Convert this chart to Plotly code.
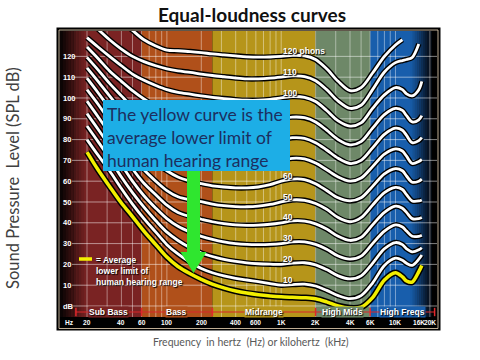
import numpy as np
import plotly.graph_objects as go

# ---------------- data ----------------
FREQ_HZ = [20, 25, 31.5, 40, 50, 63, 80, 100, 125, 160, 200, 250, 315, 400, 500, 630, 800,
           1000, 1250, 1600, 2000, 2500, 3150, 4000, 5000, 6300, 8000, 10000, 11500, 12500,
           14000, 16000, 17000]

PHON_LEVELS = [120, 110, 100, 90, 80, 70, 60, 50, 40, 30, 20, 10]

SPL_120 = [None, None, None, 137, 132.5, 128, 125, 123, 122.7, 122.3, 121.8, 121.2, 120.7, 120.2, 119.8,
           119.6, 119.7, 120, 120.5, 120.3, 118.5, 114, 108, 103.5, 105, 112, 120, 125.5, 128,
           None, None, None, None]
SPL_110 = [None, 133, 128, 123.5, 120, 117.5, 115.5, 114, 113, 112.3, 111.5, 110.8, 110.2, 109.6, 109.2,
           109.2, 109.5, 110, 110.6, 110.3, 108.3, 104, 98.5, 95, 96.5, 104, 112.5, 117, 118, 118.5,
           119.5, 126, None]
SPL_100 = [129, 124.5, 120, 115.5, 111.5, 108.5, 106, 104, 102.7, 101.8, 101, 100.3, 99.7, 99.2, 98.9,
           98.9, 99.3, 100, 100.7, 100.3, 98.3, 94, 89, 86.5, 88, 95, 101.5, 105, 104, 102, 101, 104, 108]
SPL_90 = [124.5, 119, 113, 108, 103.5, 99.5, 96, 93.5, 91.5, 90, 89, 88.5, 88.2, 88, 88, 88.3, 89,
          90, 90.8, 90.5, 88.5, 84.5, 80, 77.5, 79, 85.5, 92, 95, 94, 91.5, 88.5, 89.5, 91.5]
SPL_80 = [119.5, 113.5, 107, 101, 95.5, 90.5, 86, 83, 80.5, 79, 78, 77.5, 77.2, 77, 77.2, 77.7, 78.7,
          80, 80.9, 80.6, 78.5, 75, 71, 68.5, 70, 76, 82.5, 85.5, 84.5, 82, 78.5, 79.5, 81]
SPL_70 = [114.5, 108, 101, 94, 87.5, 81.5, 76.5, 73.5, 70.5, 68.8, 67.8, 67.2, 66.8, 66.6, 66.7, 67.2,
          68.4, 70, 71, 70.7, 68.7, 65.5, 62, 60, 61.5, 67, 73, 75.5, 74.5, 72, 68.5, 69.5, 70.5]
SPL_60 = [109.5, 102.5, 95, 87, 79.5, 74, 69, 65, 62, 60, 58.8, 57.8, 57.2, 56.8, 56.8, 57.2, 58.3,
          60, 61, 60.8, 58.8, 55.5, 52, 50.5, 52, 57.5, 63.5, 66, 65, 62.5, 59.5, 60, 61]
SPL_50 = [104, 97, 89, 80.5, 72.5, 65.5, 60, 55.5, 52.5, 51, 50.2, 49, 48.2, 47.8, 47.7, 48, 48.8,
          50, 51, 50.8, 49.3, 46.5, 42.5, 40.5, 42.5, 48.5, 54.5, 57, 56, 53.5, 50.5, 50.5, 51]
SPL_40 = [98.5, 91, 83, 74, 66, 59, 53.5, 48.5, 45, 43, 41.7, 40.5, 39.6, 39, 38.8, 38.9, 39.3,
          40, 40.9, 40.8, 39.5, 37, 33.5, 31.5, 33, 39, 45, 48, 47, 45, 42, 42, 42.5]
SPL_30 = [92.5, 85, 77, 68, 60, 53, 47, 42, 38.3, 35.5, 33.5, 32, 30.8, 30, 29.6, 29.5, 29.6,
          30, 30.8, 30.8, 29.6, 27.3, 24, 22.5, 24, 30, 36, 39, 38, 36, 33.5, 33.5, 34]
SPL_20 = [86.5, 79, 71, 62, 54.5, 47.5, 41, 35.5, 31.5, 28, 25.5, 23.8, 22.4, 21.4, 20.7, 20.3, 20.1,
          20, 20.6, 20.8, 19.8, 17.5, 14.5, 13, 14.5, 20.5, 27.5, 30.5, 29.5, 27.5, 26, 27, 28]
SPL_10 = [80, 72.5, 65, 56.5, 49, 42, 35.5, 29.5, 25, 21, 18, 16, 14.5, 13.3, 12.5, 11.7, 10.8,
          10, 10.3, 10.5, 9.6, 7.5, 5, 3.5, 5, 11, 19.5, 23, 22, 20.5, 19.5, 22.5, 24.5]
THRESHOLD_DB = [74, 65.5, 57.5, 49.5, 43, 36, 29.5, 23.5, 19, 15.5, 12.8, 10.5, 8.7, 7.2, 6.2, 5.4, 4.8,
                4.4, 4.2, 4, 3.5, 2, 0, -1, -0.6, 4, 12.5, 16, 14, 12, 11.5, 16.5, 19.5]

CURVES = [SPL_120, SPL_110, SPL_100, SPL_90, SPL_80, SPL_70, SPL_60, SPL_50, SPL_40, SPL_30, SPL_20, SPL_10]
CURVE_LABELS = ["120 phons", "110", "100", None, None, None, "60", "50", "40", "30", "20", "10"]

BAND_EDGES_HZ = [16, 60, 250, 2000, 6000, 22000]
BAND_NAMES = ["Sub Bass", "Bass", "Midrange", "High Mids", "High Freqs"]
BAND_COLORS = ["#7a2323", "#b0501a", "#b6951a", "#6e8868", "#185eac"]

GRID_HZ = [20, 30, 40, 50, 60, 70, 80, 90, 100, 200, 300, 400, 500, 600, 700, 800, 900,
           1000, 2000, 3000, 4000, 5000, 6000, 7000, 8000, 9000, 10000, 20000]
X_TICK_HZ = [14, 20, 40, 60, 100, 200, 400, 600, 1000, 2000, 4000, 6000, 10000, 16000, 20000]
X_TICK_TEXT = ["Hz", "20", "40", "60", "100", "200", "400", "600", "1K", "2K", "4K", "6K", "10K", "16K", "20K"]
Y_TICK_DB = [0, 10, 20, 30, 40, 50, 60, 70, 80, 90, 100, 110, 120]
Y_TICK_TEXT = ["dB", "10", "20", "30", "40", "50", "60", "70", "80", "90", "100", "110", "120"]

for c in CURVES + [THRESHOLD_DB]:
    assert len(c) == len(FREQ_HZ)

# ---------------- layout geometry (pixels) ----------------
W, H = 480, 360
PL, PR, PT, PB = 60, 437, 31, 328          # plot area
ML, MT, MR, MB = PL, PT, W - PR, H - PB
X_RANGE_HZ = (11.61, 23080)
Y_RANGE_DB = (-10.58, 132.2)
PW, PH = PR - PL, PB - PT


def px_x(p):
    return (p - PL) / PW


def px_y(p):
    return (PB - p) / PH


NARROW = "Liberation Sans Narrow, Liberation Sans, Arial Narrow, sans-serif"
SANS = "Lato, Open Sans, sans-serif"
SHADOW = "1px 1px 1px black"

shapes = []
shapes.append(dict(type="rect", xref="paper", yref="paper", x0=px_x(56.5), x1=px_x(440.5),
                   y0=px_y(330.5), y1=px_y(27.5), fillcolor="black", line=dict(width=0), layer="below"))

band_bottom = px_y(317)
for i, name in enumerate(BAND_NAMES):
    shapes.append(dict(type="rect", xref="x", yref="paper", x0=BAND_EDGES_HZ[i], x1=BAND_EDGES_HZ[i + 1],
                       y0=band_bottom, y1=1, fillcolor=BAND_COLORS[i], line=dict(width=0), layer="below"))


def hex_rgb(h):
    h = h.lstrip("#")
    return np.array([int(h[k:k + 2], 16) for k in (0, 2, 4)], dtype=float)


def fade(f0, f1, c0, c1, n=10):
    edges = np.geomspace(f0, f1, n + 1)
    for k in range(n):
        t = (k + 0.5) / n
        c = (1 - t) * c0 + t * c1
        shapes.append(dict(type="rect", xref="x", yref="paper", x0=edges[k], x1=edges[k + 1] * 1.002,
                           y0=band_bottom, y1=1, fillcolor="rgb(%d,%d,%d)" % tuple(c.round()),
                           line=dict(width=0), layer="below"))


fade(X_RANGE_HZ[0], 20, np.array([6, 3, 3.0]), hex_rgb(BAND_COLORS[0]), 10)
fade(13500, 20500, hex_rgb(BAND_COLORS[4]), np.array([4, 6, 12.0]), 10)
shapes.append(dict(type="rect", xref="x", yref="paper", x0=20500, x1=X_RANGE_HZ[1],
                   y0=band_bottom, y1=1, fillcolor="black", line=dict(width=0), layer="below"))

for f in GRID_HZ:
    shapes.append(dict(type="line", xref="x", yref="paper", x0=f, x1=f, y0=band_bottom, y1=1,
                       line=dict(color="rgba(255,255,255,0.42)", width=1), layer="below"))
for d in Y_TICK_DB:
    shapes.append(dict(type="line", xref="paper", yref="y", x0=px_x(72), x1=1, y0=d, y1=d,
                       line=dict(color="rgba(255,255,255,0.5)", width=1), layer="below"))

shapes.append(dict(type="rect", xref="paper", yref="paper", x0=0, x1=1, y0=0, y1=band_bottom,
                   fillcolor="black", line=dict(width=0), layer="below"))
shapes.append(dict(type="line", xref="x", yref="y", x0=BAND_EDGES_HZ[0], x1=BAND_EDGES_HZ[-1], y0=-2.9, y1=-2.9,
                   line=dict(color="#d8262a", width=1.2), layer="below"))
for f in BAND_EDGES_HZ:
    shapes.append(dict(type="line", xref="x", yref="y", x0=f, x1=f, y0=-0.9, y1=-4.9,
                       line=dict(color="#e0282c", width=1.5), layer="below"))
shapes.append(dict(type="rect", xref="paper", yref="paper", x0=px_x(59), x1=px_x(438), y0=px_y(328.5),
                   y1=px_y(30), line=dict(color="rgba(225,205,175,0.85)", width=1), layer="below"))

# overlay elements (above curves)
shapes.append(dict(type="rect", xref="paper", yref="paper", x0=px_x(103), x1=px_x(290), y0=px_y(171),
                   y1=px_y(100), fillcolor="#1daee6", line=dict(width=0), layer="above"))
arrow_pts = [(187, 171), (200, 171), (200, 252), (206.5, 252), (193.5, 273), (180.5, 252), (187, 252)]
path = "M " + " L ".join("%.4f,%.4f" % (px_x(a), px_y(b)) for a, b in arrow_pts) + " Z"
shapes.append(dict(type="path", xref="paper", yref="paper", path=path, fillcolor="#2fe62f",
                   line=dict(width=0), layer="above"))
shapes.append(dict(type="line", xref="paper", yref="paper", x0=px_x(79), x1=px_x(92), y0=px_y(259), y1=px_y(259),
                   line=dict(color="#f4f000", width=3.5), layer="above"))

fig = go.Figure()

for vals in CURVES:
    fig.add_trace(go.Scatter(x=FREQ_HZ, y=vals, mode="lines", hoverinfo="skip", showlegend=False,
                             line=dict(color="black", width=5.5, shape="spline", smoothing=0.9)))
    fig.add_trace(go.Scatter(x=FREQ_HZ, y=vals, mode="lines", hoverinfo="skip", showlegend=False,
                             line=dict(color="white", width=2.8, shape="spline", smoothing=0.9)))
fig.add_trace(go.Scatter(x=FREQ_HZ, y=THRESHOLD_DB, mode="lines", hoverinfo="skip", showlegend=False,
                         line=dict(color="black", width=6.5, shape="spline", smoothing=0.9)))
fig.add_trace(go.Scatter(x=FREQ_HZ, y=THRESHOLD_DB, mode="lines", hoverinfo="skip", showlegend=False,
                         line=dict(color="#f2ee00", width=3.5, shape="spline", smoothing=0.9)))

annotations = []
for lvl, lab in zip(PHON_LEVELS, CURVE_LABELS):
    if lab is None:
        continue
    annotations.append(dict(x=np.log10(1000), y=lvl + 2.6, xref="x", yref="y", text=lab, showarrow=False,
                            xanchor="left", yanchor="middle",
                            font=dict(family=NARROW, size=8.5, color="white", weight="bold", shadow=SHADOW)))
for i, name in enumerate(BAND_NAMES):
    xc = 0.5 * (np.log10(BAND_EDGES_HZ[i]) + np.log10(BAND_EDGES_HZ[i + 1]))
    annotations.append(dict(x=xc, y=-2.9, xref="x", yref="y", text=name, showarrow=False,
                            xanchor="center", yanchor="middle", bgcolor=BAND_COLORS[i], borderpad=0,
                            font=dict(family=NARROW, size=8.5, color="white", weight="bold", shadow=SHADOW)))
for f, t in zip(X_TICK_HZ, X_TICK_TEXT):
    annotations.append(dict(x=np.log10(f), y=-8.0, xref="x", yref="y", text=t, showarrow=False,
                            xanchor="center", yanchor="middle",
                            font=dict(family=NARROW, size=6.6, color="white", weight="bold")))
annotations.append(dict(x=px_x(94), y=px_y(252.5), xref="paper", yref="paper",
                        text="= Average<br>lower limit of<br>human hearing range", showarrow=False,
                        xanchor="left", yanchor="top", align="left",
                        font=dict(family=NARROW, size=8.5, color="white", weight="bold", shadow=SHADOW)))
annotations.append(dict(x=px_x(105), y=px_y(137), xref="paper", yref="paper",
                        text="The yellow curve is the<br>average lower limit of<br>human hearing range",
                        showarrow=False, xanchor="left", yanchor="middle", align="left",
                        font=dict(family=SANS, size=17.5, color="#1c2f60")))
annotations.append(dict(x=px_x(13), y=px_y(178), xref="paper", yref="paper",
                        text="Sound Pressure  Level (SPL dB)", showarrow=False, textangle=-90,
                        xanchor="center", yanchor="middle",
                        font=dict(family=SANS, size=16.5, color="#404040")))
annotations.append(dict(x=px_x(251), y=px_y(342), xref="paper", yref="paper",
                        text="Frequency  in hertz  (Hz) or kilohertz  (kHz)", showarrow=False,
                        xanchor="center", yanchor="middle",
                        font=dict(family=SANS, size=10.5, color="#595959")))

fig.update_layout(
    width=W, height=H, margin=dict(l=ML, r=MR, t=MT, b=MB),
    paper_bgcolor="white", plot_bgcolor="black",
    title=dict(text="<b>Equal-loudness curves</b>", x=px_x(252), xref="paper", xanchor="center",
               y=1 - 15.5 / H, yref="container", yanchor="middle",
               font=dict(family=SANS, size=19, color="#111111")),
    shapes=shapes, annotations=annotations, showlegend=False,
    xaxis=dict(type="log", range=[np.log10(X_RANGE_HZ[0]), np.log10(X_RANGE_HZ[1])],
               showticklabels=False, ticks="",
               showgrid=False, zeroline=False, showline=False, fixedrange=True),
    yaxis=dict(range=list(Y_RANGE_DB), tickvals=Y_TICK_DB, ticktext=Y_TICK_TEXT,
               ticklabelposition="inside", ticks="",
               tickfont=dict(family=NARROW, size=7.5, color="white", weight="bold"),
               showgrid=False, zeroline=False, showline=False, fixedrange=True),
)

# the page's default 8px body margin would shift the figure; remove it
fig.write_html("out.html", config={"displayModeBar": False, "staticPlot": True},
               post_script="document.body.style.margin='0px';")
